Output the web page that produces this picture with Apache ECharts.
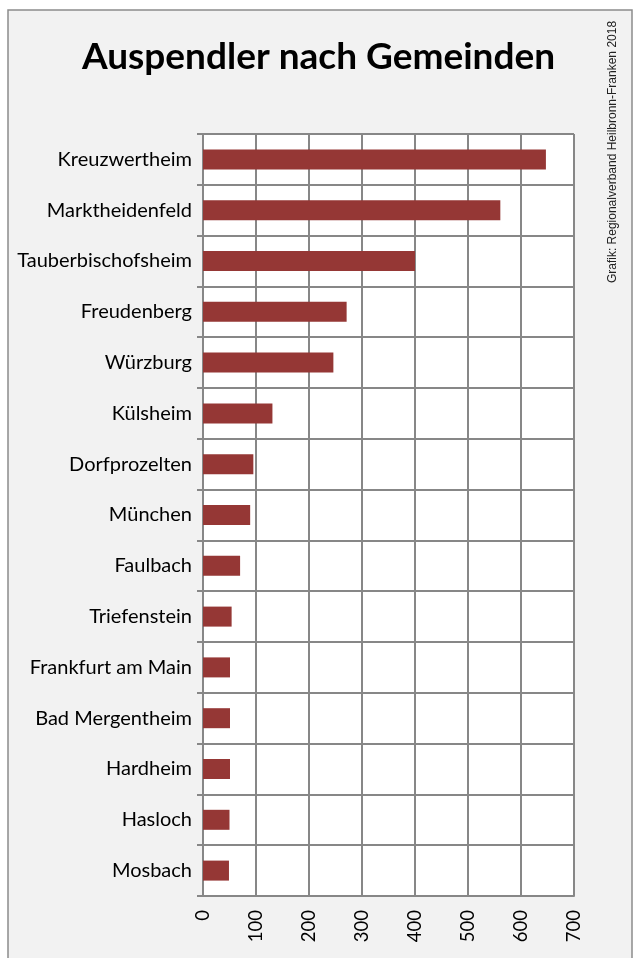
<!DOCTYPE html>
<html>
<head>
<meta charset="utf-8">
<script src="https://cdn.jsdelivr.net/npm/echarts@6/dist/echarts.min.js"></script>
<style>
html,body{margin:0;padding:0;background:#fff;}
#chart{width:637px;height:958px;}
</style>
</head>
<body>
<div id="chart"></div>
<script>
var categories = ["Kreuzwertheim","Marktheidenfeld","Tauberbischofsheim","Freudenberg","Würzburg","Külsheim","Dorfprozelten","München","Faulbach","Triefenstein","Frankfurt am Main","Bad Mergentheim","Hardheim","Hasloch","Mosbach"];
var values = [647, 561, 400, 271, 246, 131, 95, 89, 70, 54, 51, 51, 51, 50, 49];
var axisMin = 0, axisMax = 700, axisStep = 100;
var titleText = "Auspendler nach Gemeinden";
var sourceText = "Grafik: Regionalverband Heilbronn-Franken 2018";

var chart = echarts.init(document.getElementById('chart'), null, {renderer:'canvas'});
var grey = '#878787';
chart.setOption({
  backgroundColor: '#ffffff',
  animation: false,
  title: {
    text: titleText,
    left: 'center',
    top: 34,
    textStyle: {fontFamily: 'Lato', fontWeight: 'bold', fontSize: 37, color: '#000'}
  },
  graphic: [
    {type:'rect', z:-10, silent:true, shape:{x:8, y:10, width:624, height:960},
     style:{fill:'#f2f2f2', stroke:'#8c8c8c', lineWidth:1.5}},
    {type:'text', z:10, x:613, y:152, rotation:Math.PI/2,
     style:{text:sourceText, fontFamily:'Liberation Sans', fontSize:12, fill:'#222', align:'center', verticalAlign:'middle'}}
  ],
  grid: {
    left: 203, right: 63, top: 134, bottom: 62,
    show: true, backgroundColor: '#ffffff', borderWidth: 0
  },
  xAxis: {
    type: 'value',
    min: axisMin, max: axisMax, interval: axisStep,
    axisLine: {show: true, lineStyle: {color: grey, width: 2}},
    axisTick: {show: false},
    splitLine: {show: true, lineStyle: {color: grey, width: 2}},
    axisLabel: {rotate: 90, margin: 14, fontFamily: 'Lato', fontSize: 18.5, color: '#000'}
  },
  yAxis: {
    type: 'category',
    data: categories,
    inverse: true,
    axisLine: {show: true, lineStyle: {color: grey, width: 2}},
    axisTick: {show: true, length: 6, lineStyle: {color: grey, width: 2}},
    splitLine: {show: true, lineStyle: {color: grey, width: 2}},
    axisLabel: {margin: 11, fontFamily: 'Lato', fontSize: 20, color: '#000'}
  },
  series: [{
    type: 'bar',
    data: values,
    barWidth: 20,
    itemStyle: {color: '#953735'}
  }]
});
</script>
</body>
</html>
